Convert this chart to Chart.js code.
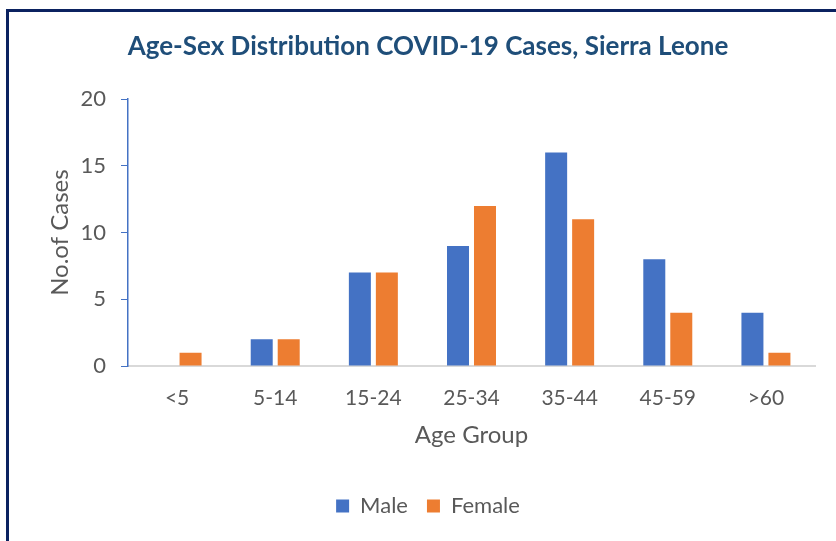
<!DOCTYPE html>
<html>
<head>
<meta charset="utf-8">
<script src="https://cdn.jsdelivr.net/npm/chart.js@4"></script>
<style>
  html, body { margin: 0; padding: 0; background: #fff; overflow: hidden; }
  .frame { position: absolute; left: 6px; top: 9px; width: 900px; height: 600px; border: 3px solid #0B2260; }
  .wrap { position: absolute; left: 0; top: 0; width: 856px; height: 541px; }
</style>
</head>
<body>
<div class="frame"></div>
<div class="wrap"><canvas id="chart"></canvas></div>
<script>
const ageGroups = ["<5", "5-14", "15-24", "25-34", "35-44", "45-59", ">60"];
const male = [0, 2, 7, 9, 16, 8, 4];
const female = [1, 2, 7, 12, 11, 4, 1];
const yTicks = [0, 5, 10, 15, 20];

const grey = "#595959";
const fontFamily = "Lato, 'Open Sans', sans-serif";

// the reference is a crop of a wider chart frame, so the canvas runs past the right edge;
// an empty right axis keeps the plot area short of it while title/legend stay centred
new Chart(document.querySelector("#chart"), {
    type: "bar",
    data: {
        labels: ageGroups,
        datasets: [{
            label: "Male",
            data: male,
            backgroundColor: "#4472C4",
            categoryPercentage: 0.55,
            barPercentage: 0.815
        }, {
            label: "Female",
            data: female,
            backgroundColor: "#ED7D31",
            categoryPercentage: 0.55,
            barPercentage: 0.815
        }]
    },
    options: {
        responsive: true,
        maintainAspectRatio: false,
        animation: false,
        layout: { padding: { left: 0, right: 0, top: 0, bottom: 14 } },
        plugins: {
            title: {
                display: true,
                text: "Age-Sex Distribution COVID-19 Cases, Sierra Leone",
                color: "#1F4E79",
                font: { family: fontFamily, size: 26, weight: "bold" },
                padding: { top: 31, bottom: 37 }
            },
            legend: {
                position: "bottom",
                labels: {
                    color: grey,
                    font: { family: fontFamily, size: 22 },
                    boxWidth: 13,
                    boxHeight: 13,
                    padding: 19
                }
            },
            tooltip: { enabled: false }
        },
        scales: {
            x: {
                grid: { display: false, drawTicks: false },
                border: { display: true, color: "#D9D9D9", width: 2 },
                ticks: { color: grey, font: { family: fontFamily, size: 21 }, padding: 20 },
                title: {
                    display: true,
                    text: "Age Group",
                    color: grey,
                    font: { family: fontFamily, size: 24 },
                    padding: { top: 0, bottom: 26 }
                },
                afterFit: (scale) => { scale.height = 110; }
            },
            y: {
                min: 0,
                max: 20,
                afterBuildTicks: (scale) => { scale.ticks = yTicks.map(v => ({ value: v })); },
                grid: { drawOnChartArea: false, drawTicks: true, tickLength: 7, color: "#4472C4" },
                border: { display: true, color: "#4472C4", width: 1.5 },
                ticks: { color: grey, font: { family: fontFamily, size: 22 }, padding: 15 },
                title: {
                    display: true,
                    text: "No.of Cases",
                    color: grey,
                    font: { family: fontFamily, size: 24 },
                    padding: { top: 46, bottom: 0 }
                },
                afterFit: (scale) => { scale.width = 128; }
            },
            spacer: {
                type: "linear",
                position: "right",
                grid: { display: false },
                border: { display: false },
                ticks: { display: false },
                afterFit: (scale) => { scale.width = 41; }
            }
        }
    }
});
</script>
</body>
</html>
